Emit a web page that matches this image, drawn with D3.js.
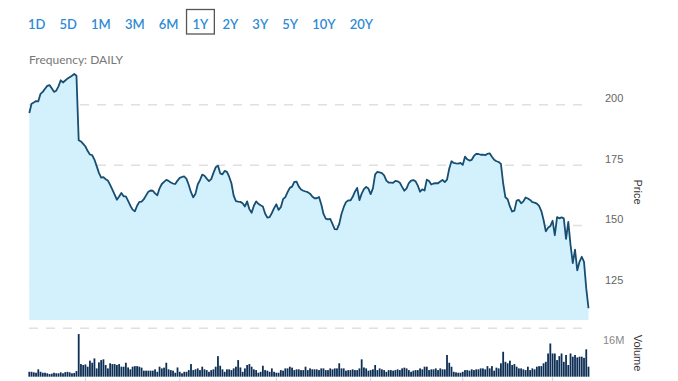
<!DOCTYPE html>
<html>
<head>
<meta charset="utf-8">
<script src="https://cdn.jsdelivr.net/npm/d3@7"></script>
<style>
  html, body { margin: 0; padding: 0; background: #fff; }
  svg { display: block; }
</style>
</head>
<body>
<svg></svg>
<script>
const WIDTH = 678;
const HEIGHT = 381;

// range buttons
const ranges = ['1D', '5D', '1M', '3M', '6M', '1Y', '2Y', '3Y', '5Y', '10Y', '20Y'];
const activeRange = '1Y';

// daily closes, one per trading day
const closes = [
    196.6, 200.4, 200.9, 201.5, 201.4, 204.5, 205.3, 206.6, 207.8, 208.1,
    206.8, 205.3, 205.8, 207.6, 210.1, 209.2, 210.0, 210.8, 211.4, 212.0,
    212.7, 212.0, 185.3, 184.8, 183.8, 182.7, 180.8, 179.4, 179.1, 177.3,
    174.6, 171.8, 169.8, 170.0, 169.2, 168.6, 166.8, 164.9, 162.8, 160.7,
    162.0, 163.5, 162.1, 162.1, 160.2, 158.2, 156.6, 155.9, 158.2, 159.8,
    159.9, 160.9, 162.5, 164.0, 164.5, 164.4, 163.3, 162.5, 165.4, 167.2,
    168.1, 168.9, 168.5, 167.8, 167.4, 167.2, 168.6, 169.7, 170.1, 170.3,
    169.3, 166.8, 163.8, 161.7, 163.2, 167.0, 168.8, 171.1, 170.6, 169.4,
    168.4, 169.2, 171.8, 174.1, 174.8, 171.6, 171.2, 172.6, 172.2, 170.2,
    167.5, 162.4, 160.1, 159.9, 159.8, 159.2, 157.9, 160.0, 156.8, 155.3,
    158.2, 160.0, 159.0, 158.4, 157.9, 155.0, 153.3, 153.5, 155.2, 157.2,
    158.8, 156.5, 157.6, 160.9, 161.8, 163.8, 165.6, 166.1, 168.1, 168.2,
    166.1, 164.9, 164.4, 164.1, 163.8, 163.2, 162.0, 161.3, 161.3, 161.8,
    158.8, 154.8, 152.9, 152.6, 152.8, 150.7, 148.5, 148.4, 150.6, 154.8,
    157.6, 159.7, 160.4, 160.4, 161.9, 164.0, 165.6, 160.5, 163.2, 165.1,
    166.0, 165.3, 163.0, 165.4, 171.2, 172.2, 172.0, 171.7, 170.8, 168.6,
    167.8, 167.8, 167.7, 168.5, 168.3, 167.7, 166.0, 164.4, 165.4, 167.6,
    168.6, 168.8, 168.3, 166.5, 164.0, 165.0, 164.5, 169.0, 168.4, 167.0,
    167.4, 167.5, 167.5, 168.2, 168.9, 168.0, 169.0, 173.6, 176.6, 175.9,
    175.7, 175.6, 175.9, 175.1, 178.5, 177.4, 176.9, 177.2, 178.8, 179.7,
    179.6, 179.3, 179.3, 179.1, 179.7, 179.9, 178.5, 177.2, 176.6, 176.3,
    175.5, 167.5, 161.7, 160.9, 157.9, 155.8, 156.2, 160.3, 160.6, 159.2,
    160.0, 161.6, 161.2, 160.6, 159.7, 159.5, 159.1, 158.1, 156.0, 152.3,
    147.6, 149.1, 149.8, 152.0, 146.0, 153.5, 153.0, 153.4, 153.0, 144.5,
    151.5, 142.0, 134.5, 140.0, 131.5, 135.0, 137.1, 135.0, 124.0, 115.8
];

// daily volume, millions of shares
const volumes = [
    2.6, 2.6, 2.3, 2.1, 3.9, 2.6, 2.1, 2.1, 1.8, 1.4,
    1.6, 2.1, 1.8, 1.8, 2.3, 1.8, 2.4, 2.6, 2.3, 1.8,
    2.0, 3.0, 22.6, 6.7, 6.2, 6.5, 5.3, 8.5, 7.4, 9.7,
    4.4, 7.6, 8.8, 9.2, 6.2, 4.4, 7.1, 6.7, 6.7, 6.2,
    6.7, 5.3, 5.3, 7.4, 4.9, 3.9, 5.3, 5.6, 5.6, 5.3,
    4.8, 3.2, 3.2, 3.2, 3.2, 3.2, 3.9, 2.6, 5.3, 4.4,
    4.8, 7.4, 3.9, 3.5, 3.2, 2.1, 4.9, 2.6, 1.8, 2.6,
    2.6, 3.5, 6.7, 3.5, 3.9, 4.4, 3.5, 5.3, 3.9, 3.5,
    2.6, 3.5, 3.9, 5.3, 10.9, 5.8, 3.9, 2.6, 3.9, 3.9,
    3.5, 4.4, 5.3, 8.8, 4.9, 2.6, 4.4, 6.2, 6.7, 5.3,
    3.9, 3.5, 2.1, 2.6, 5.8, 3.5, 3.2, 2.6, 4.4, 2.6,
    2.1, 2.1, 3.5, 3.2, 4.4, 4.4, 5.3, 4.8, 3.5, 3.9,
    3.9, 3.5, 3.5, 5.3, 3.5, 4.4, 3.9, 3.9, 3.9, 3.5,
    4.4, 4.4, 3.5, 3.5, 4.4, 3.9, 4.4, 4.4, 7.1, 4.4,
    4.4, 3.2, 3.5, 3.5, 3.9, 3.5, 3.5, 4.4, 9.2, 4.9,
    4.4, 3.2, 3.5, 3.9, 6.2, 3.5, 4.4, 3.9, 3.5, 2.6,
    3.5, 3.5, 3.2, 3.5, 3.9, 3.5, 4.4, 4.8, 4.4, 3.5,
    2.6, 3.2, 3.5, 3.5, 4.4, 3.9, 5.3, 5.3, 3.5, 3.9,
    3.9, 4.4, 3.5, 4.4, 3.9, 3.9, 11.5, 7.4, 5.3, 2.6,
    2.3, 2.1, 2.1, 2.6, 3.5, 3.5, 3.2, 3.9, 3.5, 3.9,
    3.9, 4.4, 4.4, 3.9, 5.6, 4.4, 5.6, 3.2, 4.8, 4.4,
    7.1, 13.2, 7.9, 7.1, 8.5, 6.2, 6.7, 5.3, 4.4, 4.4,
    3.9, 3.5, 5.3, 3.5, 4.4, 3.9, 5.3, 5.6, 5.6, 7.1,
    7.9, 12.3, 17.6, 12.3, 12.3, 8.8, 10.9, 12.3, 7.9, 11.5,
    6.2, 12.3, 10.6, 11.5, 10.2, 10.6, 10.6, 10.0, 14.5, 5.3
];

const priceTicks = [125, 150, 175, 200];
const volumeTicks = [16];
const monthTickDays = [25, 67, 110, 152, 193, 233];

const svg = d3.select('svg')
    .attr('width', WIDTH)
    .attr('height', HEIGHT);

// range buttons
const btnFont = '600 13px Lato, "Open Sans", sans-serif';
const btns = svg.append('g').classed('ranges', true);
const btnText = btns.selectAll('text')
    .data(ranges)
    .enter()
    .append('text')
        .attr('y', 28.5)
        .style('font', btnFont)
        .attr('fill', '#2d8ad6')
        .text(d => d);
const widths = btnText.nodes().map(n => n.getComputedTextLength());
const btnStart = 28, btnEnd = 373;
const gap = (btnEnd - btnStart - d3.sum(widths)) / (ranges.length - 1);
let cursor = btnStart;
btnText.each(function(d, i){
    d3.select(this).attr('x', cursor);
    if (d === activeRange){
        btns.insert('rect', 'text')
            .attr('x', cursor - 6)
            .attr('y', 9.5)
            .attr('width', widths[i] + 12)
            .attr('height', 24.5)
            .attr('fill', 'none')
            .attr('stroke', '#555')
            .attr('stroke-width', 1.3);
    }
    cursor += widths[i] + gap;
});

svg.append('text')
    .attr('x', 29)
    .attr('y', 63.5)
    .style('font', '12px Lato, "Open Sans", sans-serif')
    .attr('fill', '#777')
    .text('Frequency: DAILY');

// scales
const x = d3.scaleLinear()
    .domain([0, closes.length - 1])
    .range([29.3, 588.5]);
const y = d3.scaleLinear()
    .domain([125, 200])
    .range([286, 104.7]);
const priceBottom = 320;
const yVol = d3.scaleLinear()
    .domain([0, 16])
    .range([376.7, 346.5]);

const gridColor = '#e0e0e0';

// price gridlines
svg.append('g')
    .classed('grid', true)
    .selectAll('line')
    .data(priceTicks)
    .enter()
    .append('line')
        .attr('x1', 29)
        .attr('x2', 587)
        .attr('y1', d => y(d))
        .attr('y2', d => y(d))
        .attr('stroke', gridColor)
        .attr('stroke-width', 1.5)
        .attr('stroke-dasharray', '9,8');

// price area + line
const area = d3.area()
    .x((d, i) => x(i))
    .y0(priceBottom)
    .y1(d => y(d));
const line = d3.line()
    .x((d, i) => x(i))
    .y(d => y(d));

svg.append('path')
    .datum(closes)
    .attr('d', area)
    .attr('fill', '#d2f1fd');
svg.append('path')
    .datum(closes)
    .attr('d', line)
    .attr('fill', 'none')
    .attr('stroke', '#174e72')
    .attr('stroke-width', 1.8)
    .attr('stroke-linejoin', 'round');

// price labels
const axisFont = '11px "Liberation Sans", Arial, sans-serif';
svg.append('g')
    .selectAll('text')
    .data(priceTicks)
    .enter()
    .append('text')
        .attr('x', 605)
        .attr('y', d => y(d) - 2.5)
        .style('font', axisFont)
        .attr('fill', '#666')
        .text(d => d);

svg.append('text')
    .attr('transform', 'translate(634, 192) rotate(90)')
    .attr('text-anchor', 'middle')
    .style('font', axisFont)
    .attr('fill', '#333')
    .text('Price');

// volume panel
svg.append('line')
    .attr('x1', 29)
    .attr('x2', 587)
    .attr('y1', 328.3)
    .attr('y2', 328.3)
    .attr('stroke', gridColor)
    .attr('stroke-width', 1.5)
    .attr('stroke-dasharray', '9,8');

const barW = (x(1) - x(0)) * 0.8;
svg.append('g')
    .classed('volume', true)
    .selectAll('rect')
    .data(volumes)
    .enter()
    .append('rect')
        .attr('x', (d, i) => x(i) - barW / 2)
        .attr('y', d => yVol(d))
        .attr('width', barW)
        .attr('height', d => yVol(0) - yVol(d))
        .attr('fill', '#0e2f55');

svg.append('g')
    .selectAll('text')
    .data(volumeTicks)
    .enter()
    .append('text')
        .attr('x', 603)
        .attr('y', d => yVol(d) - 2.5)
        .style('font', axisFont)
        .attr('fill', '#888')
        .text(d => d + 'M');

svg.append('text')
    .attr('transform', 'translate(634, 353) rotate(90)')
    .attr('text-anchor', 'middle')
    .style('font', axisFont)
    .attr('fill', '#333')
    .text('Volume');

// month ticks at the bottom edge
svg.append('g')
    .selectAll('line')
    .data(monthTickDays)
    .enter()
    .append('line')
        .attr('x1', d => x(d))
        .attr('x2', d => x(d))
        .attr('y1', 377.5)
        .attr('y2', 386)
        .attr('stroke', '#c9d7ea')
        .attr('stroke-width', 1);
</script>
</body>
</html>
